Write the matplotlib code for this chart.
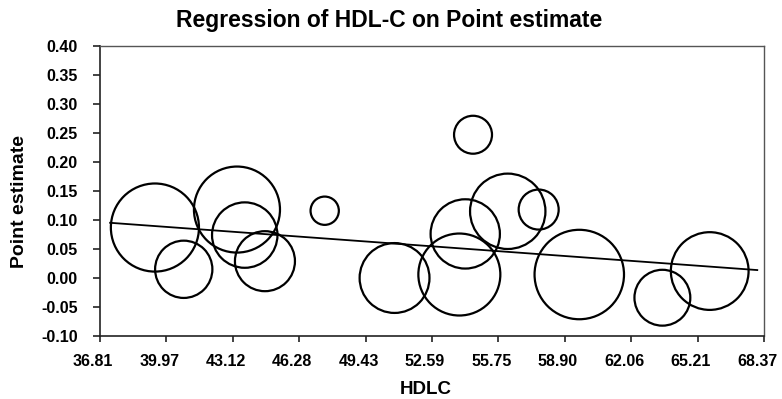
import matplotlib
matplotlib.use('Agg')
import matplotlib.pyplot as plt
import matplotlib.transforms as mtransforms
import numpy as np

# Study estimates (HDL-C vs point estimate), bubble weight ~ area
hdlc = [39.42, 40.79, 43.32, 43.69, 44.65, 47.49, 50.81, 53.89, 54.17, 54.54,
        56.19, 57.66, 59.59, 63.54, 65.79]
point_est = [0.087, 0.015, 0.118, 0.074, 0.029, 0.116, 0.000, 0.006, 0.076, 0.247,
             0.115, 0.118, 0.006, -0.034, 0.012]
weights = [19.4, 8.2, 18.5, 10.7, 9.0, 2.0, 12.2, 16.8, 12.0, 3.6,
           14.2, 4.0, 20.0, 7.8, 15.1]

# Fitted meta-regression line
intercept = 0.194
slope = -0.00265
line_x = [37.29, 68.05]

x_ticks = [36.81, 39.97, 43.12, 46.28, 49.43, 52.59, 55.75, 58.90, 62.06, 65.21, 68.37]
y_ticks = [-0.10, -0.05, 0.00, 0.05, 0.10, 0.15, 0.20, 0.25, 0.30, 0.35, 0.40]

plt.rcParams['font.family'] = ['Liberation Sans', 'DejaVu Sans']
plt.rcParams['font.weight'] = 'bold'

fig = plt.figure(figsize=(7.82, 3.99), dpi=100)
ax = fig.add_axes([100 / 782, 63 / 399, 664 / 782, 290 / 399])

ax.scatter(hdlc, point_est, s=np.array(weights) * 207.4, facecolors='none',
           edgecolors='black', linewidths=1.6, zorder=3)

lx = np.array(line_x)
ax.plot(lx, intercept + slope * lx, color='black', linewidth=1.3, zorder=2)

ax.set_xlim(x_ticks[0], x_ticks[-1])
ax.set_ylim(y_ticks[0], y_ticks[-1])
ax.set_xticks(x_ticks)
ax.set_xticklabels(['%.2f' % v for v in x_ticks])
ax.set_yticks(y_ticks)
ax.set_yticklabels(['%.2f' % v for v in y_ticks])
ax.tick_params(axis='both', direction='out', width=1.2, colors='#222222',
               labelcolor='black', labelsize=11.5)
ax.tick_params(axis='x', length=4, pad=9)
ax.tick_params(axis='y', length=5, pad=11)

# x labels in the original sit a little left of their ticks
shift = mtransforms.ScaledTranslation(-7 / 100, 0, fig.dpi_scale_trans)
for lab in ax.get_xticklabels():
    lab.set_transform(lab.get_transform() + shift)

for side in ['left', 'bottom']:
    ax.spines[side].set_color('#222222')
    ax.spines[side].set_linewidth(1.2)
for side in ['top', 'right']:
    ax.spines[side].set_color('#555555')
    ax.spines[side].set_linewidth(1.0)

fig.text(389 / 782, 1 - 21 / 399, 'Regression of HDL-C on Point estimate',
         ha='center', va='center', fontsize=16.5, fontweight='bold')
fig.text(20 / 782, 1 - 201 / 399, 'Point estimate', rotation=90,
         ha='center', va='center', fontsize=14, fontweight='bold')
fig.text(426 / 782, 1 - 390 / 399, 'HDLC', ha='center', va='center',
         fontsize=13.5, fontweight='bold')

fig.savefig('out.png', dpi=100)
